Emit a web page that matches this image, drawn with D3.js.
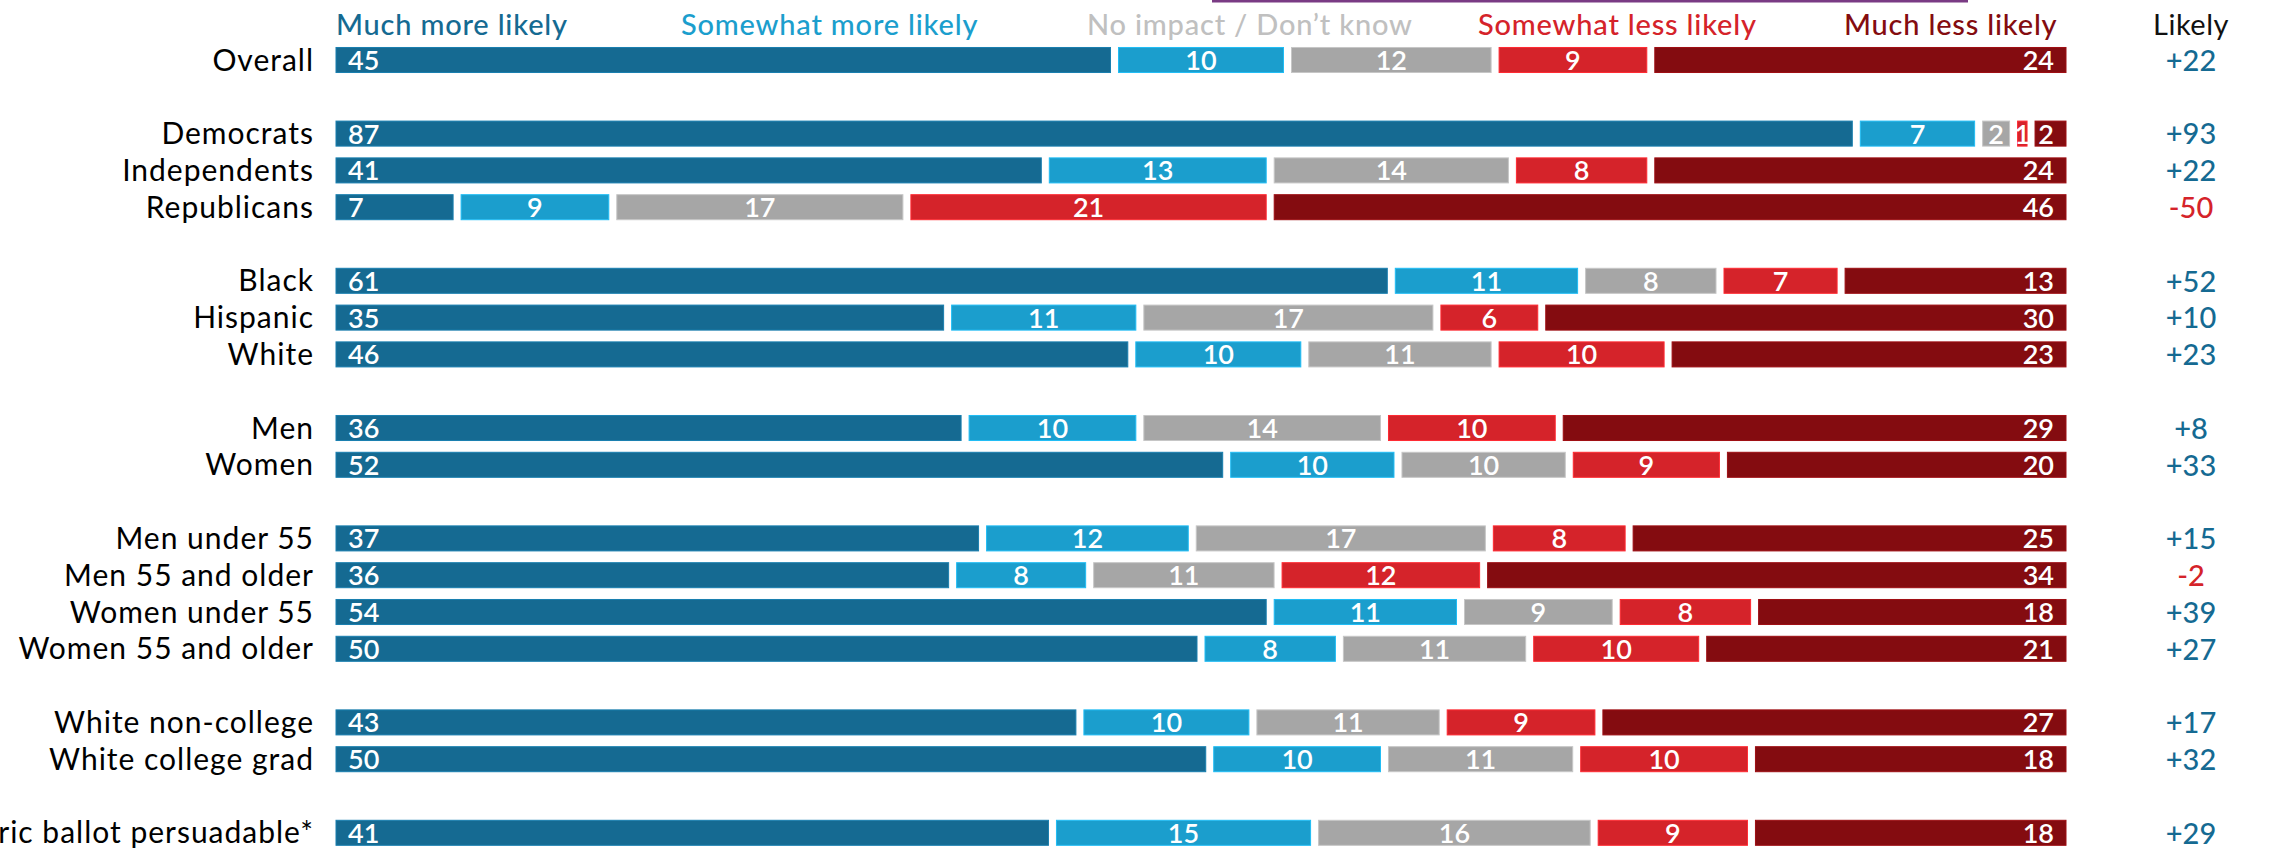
<!DOCTYPE html>
<html>
<head>
<meta charset="utf-8">
<script src="https://cdn.jsdelivr.net/npm/d3@7"></script>
<style>
  html, body { margin: 0; padding: 0; background: #fff; overflow: hidden; }
  svg text { font-family: Lato, "Open Sans", sans-serif; }
</style>
</head>
<body>
<svg id="chart" width="2280" height="848"></svg>
<script>
// categories, top to bottom; group number adds a blank row between blocks
var categories = ["Overall", "Democrats", "Independents", "Republicans", "Black", "Hispanic", "White",
    "Men", "Women", "Men under 55", "Men 55 and older", "Women under 55", "Women 55 and older",
    "White non-college", "White college grad", "Generic ballot persuadable*"];
var groups = [0, 1, 1, 1, 2, 2, 2, 3, 3, 4, 4, 4, 4, 5, 5, 6];

var seriesNames = ["Much more likely", "Somewhat more likely", "No impact / Don\u2019t know", "Somewhat less likely", "Much less likely"];
var muchMore     = [45, 87, 41,  7, 61, 35, 46, 36, 52, 37, 36, 54, 50, 43, 50, 41];
var somewhatMore = [10,  7, 13,  9, 11, 11, 10, 10, 10, 12,  8, 11,  8, 10, 10, 15];
var noImpact     = [12,  2, 14, 17,  8, 17, 11, 14, 10, 17, 11,  9, 11, 11, 11, 16];
var somewhatLess = [ 9,  1,  8, 21,  7,  6, 10, 10,  9,  8, 12,  8, 10,  9, 10,  9];
var muchLess     = [24,  2, 24, 46, 13, 30, 23, 29, 20, 25, 34, 18, 21, 27, 18, 18];
var netLikely    = ["+22", "+93", "+22", "-50", "+52", "+10", "+23", "+8", "+33", "+15", "-2", "+39", "+27", "+17", "+32", "+29"];

var colors = ["#156a92", "#1b9ecd", "#a6a6a6", "#d5232a", "#840c10"];
var legendColors = ["#156a92", "#1b9ecd", "#c0c0c0", "#d5232a", "#840c10"];
var legendX = [336, 681, 1087, 1478, 1844];

var svg = d3.select("#chart");

var rows = categories.map(function(c, i) {
    return { name: c, slot: i + groups[i], s0: muchMore[i], s1: somewhatMore[i], s2: noImpact[i], s3: somewhatLess[i], s4: muchLess[i], net: netLikely[i] };
});

var keys = ["s0", "s1", "s2", "s3", "s4"];
var stack = d3.stack().keys(keys).offset(d3.stackOffsetExpand);
var layers = stack(rows);

var x = d3.scaleLinear().domain([0, 1]).range([336, 2066]);
var y = d3.scaleBand().domain(d3.range(22)).range([41.6, 851.2]).paddingInner(0.32).paddingOuter(0.16);
var gap = 4;

// top: cut-off header bits
svg.append("line").attr("x1", 1212).attr("x2", 1968).attr("y1", 1).attr("y2", 1)
    .attr("stroke", "#7a3b84").attr("stroke-width", 3);
svg.append("text").attr("x", 2191).attr("y", 0).attr("text-anchor", "middle")
    .attr("font-size", 29).attr("fill", "#333").text("Net More");

// legend
svg.append("g").selectAll("text").data(seriesNames).join("text")
    .attr("x", function(d, i) { return legendX[i]; })
    .attr("y", 35)
    .attr("font-size", 29)
    .attr("font-weight", 500)
    .attr("letter-spacing", 0.8)
    .attr("fill", function(d, i) { return legendColors[i]; })
    .text(function(d) { return d; });

svg.append("text").attr("x", 2191).attr("y", 35).attr("text-anchor", "middle")
    .attr("font-size", 29).attr("letter-spacing", 0.5).attr("fill", "#111").text("Likely");

// category labels
svg.append("g").selectAll("text").data(rows).join("text")
    .attr("x", 314)
    .attr("y", function(d) { return y(d.slot) + y.bandwidth() / 2; })
    .attr("dy", "0.35em")
    .attr("text-anchor", "end")
    .attr("font-size", 30)
    .attr("letter-spacing", 1)
    .attr("fill", "#000")
    .text(function(d) { return d.name; });

// bars
layers.forEach(function(layer, k) {
    var g = svg.append("g");
    var segs = g.selectAll("g").data(layer).join("g");

    function left(d) { return k === 0 ? x(d[0]) : x(d[0]) + gap; }
    function right(d) { return k === keys.length - 1 ? x(d[1]) : x(d[1]) - gap; }

    segs.append("rect")
        .attr("x", function(d) { return left(d); })
        .attr("y", function(d) { return y(d.data.slot); })
        .attr("width", function(d) { return Math.max(0, right(d) - left(d)); })
        .attr("height", y.bandwidth())
        .attr("fill", colors[k])
        .attr("stroke", d3.color(colors[k]).brighter(0.5))
        .attr("stroke-width", 1);

    segs.append("text")
        .attr("x", function(d) {
            if (k === 0) return left(d) + 12;
            if (k === keys.length - 1) return right(d) - 12;
            return (left(d) + right(d)) / 2;
        })
        .attr("y", function(d) { return y(d.data.slot) + y.bandwidth() / 2; })
        .attr("dy", "0.37em")
        .attr("text-anchor", k === 0 ? "start" : (k === keys.length - 1 ? "end" : "middle"))
        .attr("font-size", 27)
        .attr("font-weight", 600)
        .attr("fill", "#fff")
        .text(function(d) { return d.data[keys[k]]; });
});

// net column
svg.append("g").selectAll("text").data(rows).join("text")
    .attr("x", 2191)
    .attr("y", function(d) { return y(d.slot) + y.bandwidth() / 2; })
    .attr("dy", "0.37em")
    .attr("text-anchor", "middle")
    .attr("font-size", 29)
    .attr("font-weight", 500)
    .attr("fill", function(d) { return d.net.charAt(0) === "-" ? "#d5232a" : "#156a92"; })
    .text(function(d) { return d.net; });
</script>
</body>
</html>
